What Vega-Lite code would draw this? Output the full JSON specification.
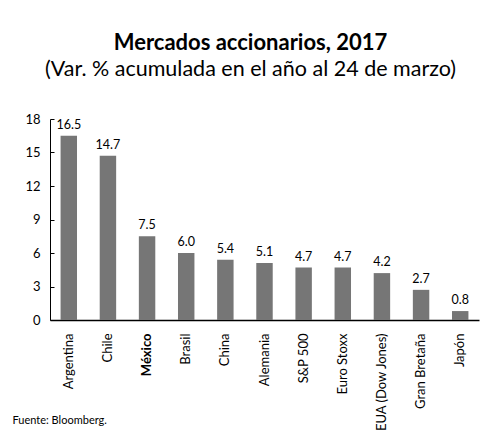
{
  "$schema": "https://vega.github.io/schema/vega-lite/v6.json",
  "autosize": {"type": "none"},
  "padding": {"left": 50, "top": 119, "right": 13, "bottom": 110},
  "width": 429,
  "height": 201,
  "background": "white",
  "title": {
    "text": "Mercados accionarios, 2017",
    "subtitle": "(Var. % acumulada en el año al 24 de marzo)",
    "anchor": "middle",
    "dx": -14,
    "offset": 32,
    "font": "Lato",
    "fontSize": 22,
    "fontWeight": "bold",
    "color": "black",
    "subtitleFont": "Lato",
    "subtitleFontSize": 21.5,
    "subtitleColor": "black",
    "subtitlePadding": 4
  },
  "data": {
    "values": [
      {"pais": "Argentina", "valor": 16.5},
      {"pais": "Chile", "valor": 14.7},
      {"pais": "México", "valor": 7.5},
      {"pais": "Brasil", "valor": 6.0},
      {"pais": "China", "valor": 5.4},
      {"pais": "Alemania", "valor": 5.1},
      {"pais": "S&P 500", "valor": 4.7},
      {"pais": "Euro Stoxx", "valor": 4.7},
      {"pais": "EUA (Dow Jones)", "valor": 4.2},
      {"pais": "Gran Bretaña", "valor": 2.7},
      {"pais": "Japón", "valor": 0.8}
    ]
  },
  "encoding": {
    "x": {
      "field": "pais",
      "type": "nominal",
      "sort": null,
      "scale": {"paddingInner": 0.58, "paddingOuter": 0.27},
      "axis": {
        "title": "Fuente: Bloomberg.",
        "titleFont": "Lato",
        "titleFontSize": 11,
        "titleFontWeight": "normal",
        "titleColor": "black",
        "titleAlign": "left",
        "titleAnchor": "start",
        "titleBaseline": "middle",
        "titleX": -38,
        "titleY": 100,
        "labelAngle": -90,
        "labelFont": "Lato",
        "labelFontSize": 13,
        "labelColor": "black",
        "labelPadding": 13,
        "labelFontWeight": {"condition": {"test": "datum.value == 'México'", "value": "bold"}, "value": "normal"},
        "ticks": false,
        "domainColor": "black",
        "domainWidth": 1.5
      }
    },
    "y": {
      "field": "valor",
      "type": "quantitative",
      "scale": {"domain": [0, 18]},
      "axis": {
        "title": null,
        "values": [0, 3, 6, 9, 12, 15, 18],
        "labelFont": "Lato",
        "labelFontSize": 13,
        "labelColor": "black",
        "labelPadding": 14,
        "tickSize": -4,
        "tickColor": "black",
        "grid": false,
        "domainColor": "black",
        "domainWidth": 1
      }
    }
  },
  "layer": [
    {"mark": {"type": "bar", "color": "#767676"}},
    {
      "mark": {"type": "text", "dy": -11, "font": "Lato", "fontSize": 12.5, "color": "black"},
      "encoding": {
        "text": {"field": "valor", "type": "quantitative", "format": ".1f"},
        "fontWeight": {"condition": {"test": "datum.pais == 'México'", "value": "bold"}, "value": "normal"}
      }
    }
  ],
  "config": {"view": {"stroke": null}}
}
